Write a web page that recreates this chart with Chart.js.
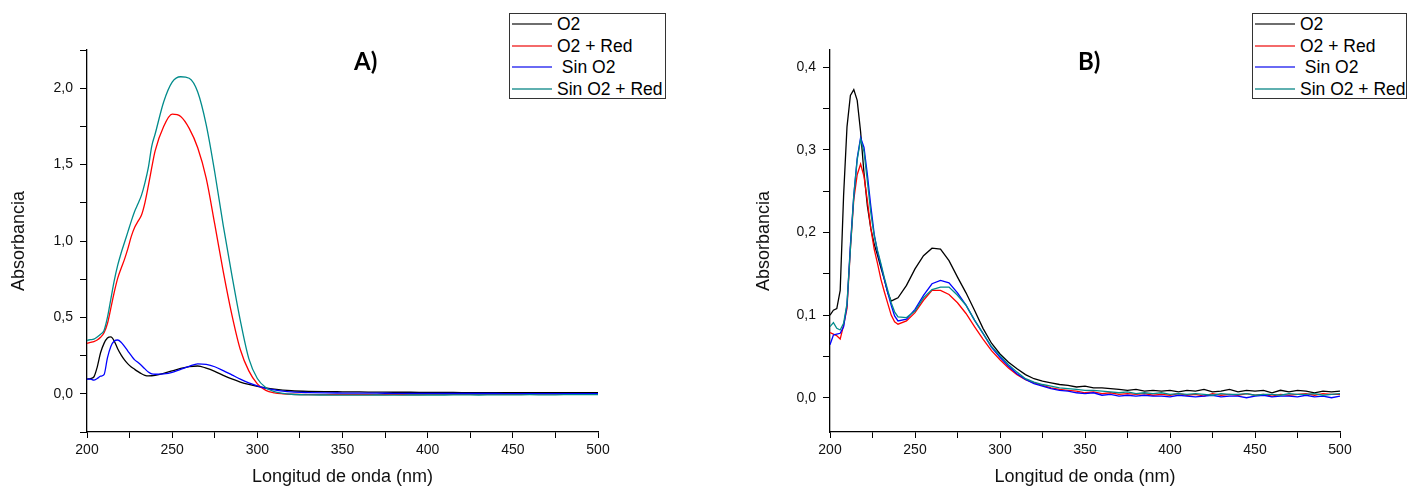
<!DOCTYPE html>
<html>
<head>
<meta charset="utf-8">
<script src="https://cdn.jsdelivr.net/npm/chart.js@4.4.1/dist/chart.umd.min.js"></script>
<style>
    html, body { margin: 0; padding: 0; background: #fff; }
    body { width: 1408px; height: 488px; position: relative; overflow: hidden;
           font-family: 'Liberation Sans', Arial, sans-serif; color: #000; }
    canvas { position: absolute; top: 0; }
    #chart-a { left: 0; }
    #chart-b { left: 700px; }
    .panel-tag { position: absolute; top: 49px; font: bold 24px Lato, sans-serif; line-height: 24px; }
    .legend { position: absolute; top: 13px; height: 86px; border: 1px solid #333;
              box-sizing: border-box; background: #fff; overflow: hidden; }
    .legend-row { position: absolute; left: 2px; height: 20px; display: flex; align-items: center;
                  font-size: 17.5px; line-height: 17px; white-space: pre; }
    .legend-row i { display: block; width: 40px; height: 2px; margin-right: 5px; }
</style>
</head>
<body>
<canvas id="chart-a" width="700" height="488" style="width:700px;height:488px"></canvas>
<canvas id="chart-b" width="708" height="488" style="width:708px;height:488px"></canvas>
<div class="panel-tag" style="left:354px">A)</div>
<div class="panel-tag" style="left:1078px">B)</div>
<div class="legend" id="legend-a" style="left:509px;width:157px"></div>
<div class="legend" id="legend-b" style="left:1252px;width:155px"></div>

<script>
// ---- data -------------------------------------------------------------------

const SERIES_LABELS = ['O2', 'O2 + Red', ' Sin O2', 'Sin O2 + Red'];
const LINE_COLORS = ['#000000', '#ff0000', '#0000ff', '#008b8b'];
const LEGEND_COLORS = ['#6e6e6e', '#f46a6a', '#6a6af4', '#5fb0b0'];

const X_TICKS = [200, 225, 250, 275, 300, 325, 350, 375, 400, 425, 450, 475, 500];
const X_LABELS = [200, 250, 300, 350, 400, 450, 500];

// Panel A
const wlA = [200, 202, 204, 206, 208, 210, 212, 214, 216, 218, 220, 222, 224, 226, 228, 230, 232, 234, 236, 238, 240,
    245, 250, 255, 260, 265, 270, 275, 280, 285, 290, 295, 300, 305, 310, 315, 320,
    330, 340, 350, 360, 370, 380, 390, 400, 410, 420, 430, 440, 450, 460, 470, 480, 490, 500];
const o2A = [0.096, 0.100, 0.110, 0.175, 0.270, 0.330, 0.365, 0.372, 0.345, 0.295, 0.255, 0.222, 0.196, 0.176, 0.160, 0.145, 0.131, 0.121, 0.117, 0.118, 0.121,
    0.134, 0.150, 0.166, 0.178, 0.182, 0.168, 0.147, 0.121, 0.097, 0.077, 0.061, 0.048, 0.038, 0.030, 0.024, 0.020,
    0.016, 0.014, 0.013, 0.012, 0.011, 0.010, 0.010, 0.009, 0.009, 0.008, 0.008, 0.008, 0.008, 0.007, 0.007, 0.007, 0.007, 0.007];
const o2RedA = [0.330, 0.336, 0.342, 0.352, 0.370, 0.400, 0.460, 0.560, 0.665, 0.755, 0.820, 0.880, 0.950, 1.030, 1.090, 1.130, 1.170, 1.250, 1.360, 1.480, 1.590,
    1.750, 1.830, 1.815, 1.737, 1.610, 1.410, 1.110, 0.800, 0.520, 0.290, 0.150, 0.065, 0.022, 0.006, 0.000, -0.003,
    -0.005, -0.005, -0.006, -0.005, -0.005, -0.004, -0.005, -0.004, -0.004, -0.003, -0.004, -0.003, -0.003, -0.003, -0.002, -0.003, -0.002, -0.002];
const sinO2A = [0.096, 0.096, 0.090, 0.100, 0.115, 0.125, 0.235, 0.310, 0.345, 0.352, 0.338, 0.310, 0.280, 0.250, 0.222, 0.205, 0.185, 0.163, 0.143, 0.131, 0.128,
    0.130, 0.140, 0.160, 0.180, 0.196, 0.192, 0.177, 0.152, 0.124, 0.096, 0.071, 0.052, 0.036, 0.025, 0.017, 0.012,
    0.008, 0.006, 0.005, 0.004, 0.004, 0.003, 0.003, 0.003, 0.002, 0.002, 0.002, 0.002, 0.001, 0.001, 0.001, 0.001, 0.001, 0.001];
const sinO2RedA = [0.350, 0.354, 0.358, 0.372, 0.390, 0.415, 0.500, 0.620, 0.740, 0.840, 0.920, 0.990, 1.060, 1.130, 1.195, 1.245, 1.300, 1.380, 1.480, 1.620, 1.700,
    1.910, 2.040, 2.075, 2.065, 1.975, 1.760, 1.450, 1.100, 0.780, 0.480, 0.230, 0.100, 0.040, 0.014, 0.003, -0.003,
    -0.007, -0.008, -0.009, -0.009, -0.008, -0.009, -0.008, -0.008, -0.008, -0.007, -0.008, -0.007, -0.007, -0.006, -0.007, -0.006, -0.006, -0.006];
const yTicksA = [-0.25, 0, 0.25, 0.5, 0.75, 1, 1.25, 1.5, 1.75, 2, 2.25];
const yLabelsA = [0, 0.5, 1, 1.5, 2];

// Panel B
const wlB = [200, 202, 204, 206, 208, 210, 212, 214, 216, 218, 220, 222, 224, 226, 228, 230, 232, 234, 236, 238, 240,
    245, 250, 255, 260, 265, 270, 275, 280, 285, 290, 295, 300, 305, 310, 315, 320, 325, 330, 335, 340, 345, 350,
    355, 360, 365, 370, 375, 380, 385, 390, 395, 400, 405, 410, 415, 420, 425, 430, 435, 440, 445, 450,
    455, 460, 465, 470, 475, 480, 485, 490, 495, 500];
const o2B = [0.100, 0.106, 0.108, 0.130, 0.245, 0.328, 0.366, 0.373, 0.360, 0.322, 0.272, 0.232, 0.205, 0.186, 0.172, 0.157, 0.143, 0.127, 0.117, 0.119, 0.121,
    0.136, 0.156, 0.172, 0.181, 0.180, 0.166, 0.146, 0.127, 0.106, 0.084, 0.066, 0.053, 0.043, 0.035, 0.028, 0.023, 0.020, 0.018, 0.016, 0.015, 0.013, 0.014,
    0.012, 0.012, 0.011, 0.010, 0.009, 0.010, 0.008, 0.009, 0.008, 0.009, 0.007, 0.009, 0.008, 0.010, 0.007, 0.008, 0.010, 0.007, 0.009, 0.008,
    0.009, 0.006, 0.009, 0.007, 0.009, 0.008, 0.006, 0.008, 0.007, 0.008];
const o2RedB = [0.079, 0.077, 0.075, 0.071, 0.088, 0.108, 0.180, 0.240, 0.270, 0.283, 0.268, 0.238, 0.205, 0.180, 0.162, 0.143, 0.128, 0.114, 0.100, 0.092, 0.089,
    0.093, 0.103, 0.118, 0.130, 0.130, 0.125, 0.115, 0.102, 0.086, 0.071, 0.057, 0.046, 0.036, 0.028, 0.022, 0.018, 0.015, 0.012, 0.010, 0.009, 0.008, 0.006,
    0.007, 0.005, 0.006, 0.004, 0.005, 0.004, 0.005, 0.003, 0.004, 0.003, 0.005, 0.003, 0.004, 0.002, 0.005, 0.003, 0.004, 0.003, 0.005, 0.003,
    0.004, 0.002, 0.004, 0.003, 0.004, 0.005, 0.003, 0.005, 0.004, 0.004];
const sinO2B = [0.064, 0.076, 0.077, 0.078, 0.086, 0.112, 0.185, 0.245, 0.290, 0.315, 0.303, 0.270, 0.232, 0.198, 0.176, 0.160, 0.143, 0.127, 0.112, 0.099, 0.093,
    0.095, 0.107, 0.124, 0.138, 0.142, 0.139, 0.127, 0.112, 0.094, 0.078, 0.061, 0.049, 0.038, 0.029, 0.022, 0.017, 0.014, 0.011, 0.009, 0.008, 0.006, 0.005,
    0.006, 0.003, 0.004, 0.002, 0.003, 0.002, 0.003, 0.002, 0.002, 0.001, 0.003, 0.002, 0.001, 0.002, 0.003, 0.001, 0.002, 0.002, 0.000, 0.002,
    0.003, 0.001, 0.002, 0.002, 0.001, 0.003, 0.001, 0.002, 0.000, 0.002];
const sinO2RedB = [0.086, 0.091, 0.084, 0.082, 0.090, 0.114, 0.180, 0.245, 0.288, 0.313, 0.298, 0.262, 0.224, 0.196, 0.178, 0.162, 0.145, 0.130, 0.115, 0.104, 0.098,
    0.097, 0.105, 0.121, 0.131, 0.134, 0.134, 0.124, 0.112, 0.094, 0.078, 0.062, 0.051, 0.040, 0.031, 0.023, 0.019, 0.016, 0.014, 0.012, 0.011, 0.010, 0.009,
    0.009, 0.008, 0.007, 0.006, 0.007, 0.005, 0.006, 0.005, 0.006, 0.004, 0.005, 0.004, 0.005, 0.004, 0.003, 0.005, 0.004, 0.004, 0.005, 0.003,
    0.004, 0.004, 0.003, 0.005, 0.004, 0.004, 0.005, 0.003, 0.004, 0.005];
const yTicksB = [0, 0.05, 0.1, 0.15, 0.2, 0.25, 0.3, 0.35, 0.4];
const yLabelsB = [0, 0.1, 0.2, 0.3, 0.4];

// ---- drawing ----------------------------------------------------------------

const FONT = "'Liberation Sans', Arial, sans-serif";

function _fmtComma(v) {
    return v.toFixed(1).replace('.', ',');
}

function _buildLegend(id) {
    const box = document.getElementById(id);
    box.innerHTML = SERIES_LABELS.map((label, i) =>
        `<div class="legend-row" style="top:${Math.round(i * 21.7)}px"><i style="background:${LEGEND_COLORS[i]}"></i>${label}</div>`
    ).join('');
}

function _buildChart(canvasId, o) {
    const datasets = SERIES_LABELS.map((label, i) => ({
        label,
        data: o.wl.map((x, k) => ({ x, y: o.values[i][k] })),
        borderColor: LINE_COLORS[i],
        borderWidth: 1.3,
        pointRadius: 0,
        fill: false,
        cubicInterpolationMode: o.smooth ? 'monotone' : 'default',
        tension: 0,
        order: SERIES_LABELS.length - i,
    }));
    const tickFont = { family: FONT, size: 14 };
    const titleFont = { family: FONT, size: 18 };
    return new Chart(document.getElementById(canvasId), {
        type: 'line',
        data: { datasets },
        options: {
            responsive: false,
            animation: false,
            devicePixelRatio: 1,
            layout: { padding: { left: o.padLeft, top: 50, right: o.padRight, bottom: 0 } },
            plugins: { legend: { display: false }, tooltip: { enabled: false } },
            scales: {
                x: {
                    type: 'linear', min: 200, max: 500,
                    afterBuildTicks: s => { s.ticks = X_TICKS.map(v => ({ value: v })); },
                    afterFit: s => { s.height = 56; },
                    ticks: {
                        autoSkip: false, maxRotation: 0, padding: 4, color: '#111', font: tickFont,
                        callback: v => X_LABELS.includes(v) ? String(v) : '',
                    },
                    grid: { drawOnChartArea: false, tickLength: 6, color: '#000' },
                    border: { color: '#000', width: 1.3 },
                    title: { display: true, text: 'Longitud de onda (nm)', color: '#111', font: titleFont, padding: 0 },
                },
                y: {
                    type: 'linear', min: o.yMin, max: o.yMax,
                    afterBuildTicks: s => { s.ticks = o.yTicks.map(v => ({ value: v })); },
                    afterFit: s => { s.width = o.yWidth; },
                    ticks: {
                        autoSkip: false, padding: 7, color: '#111', font: tickFont,
                        callback: v => o.yLabels.includes(v) ? _fmtComma(v) : '',
                    },
                    grid: { drawOnChartArea: false, tickLength: 7, color: '#000' },
                    border: { color: '#000', width: 1.3 },
                    title: { display: true, text: 'Absorbancia', color: '#111', font: titleFont, padding: { top: 8, bottom: 0 } },
                },
            },
        },
    });
}

_buildChart('chart-a', {
    wl: wlA, values: [o2A, o2RedA, sinO2A, sinO2RedA], smooth: true,
    yMin: -0.25, yMax: 2.25, yTicks: yTicksA, yLabels: yLabelsA,
    padLeft: 0, yWidth: 87, padRight: 102,
});
_buildChart('chart-b', {
    wl: wlB, values: [o2B, o2RedB, sinO2B, sinO2RedB], smooth: false,
    yMin: -0.0415, yMax: 0.421, yTicks: yTicksB, yLabels: yLabelsB,
    padLeft: 45, yWidth: 85, padRight: 68,
});
_buildLegend('legend-a');
_buildLegend('legend-b');
</script>
</body>
</html>
